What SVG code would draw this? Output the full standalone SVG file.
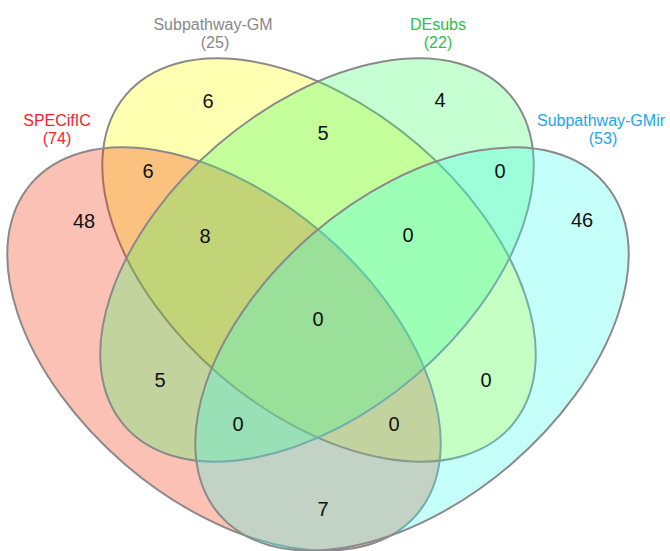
<svg xmlns="http://www.w3.org/2000/svg" width="670" height="551" viewBox="0 0 670 551">
  <style>
    .set { fill-opacity: 0.3; stroke: #8a8a8a; stroke-width: 2; }
    .lbl { font-family: "Liberation Sans", Arial, sans-serif; font-size: 16px; text-anchor: middle; }
    .cnt { font-family: "Liberation Sans", Arial, sans-serif; font-size: 20px; text-anchor: middle; fill: #111; }
  </style>
  <rect width="670" height="551" fill="#ffffff"/>

  <!-- four-set Venn: ellipses drawn yellow, red, green, cyan -->
  <g id="set-subpathway-gm">
    <ellipse class="set" cx="319" cy="260" rx="254" ry="152" transform="rotate(40.6 319 260)" fill="#ffff00"/>
    <text class="lbl" fill="#888888" x="213" y="30">Subpathway-GM</text>
    <text class="lbl" fill="#888888" x="215" y="48">(25)</text>
  </g>
  <g id="set-specific">
    <ellipse class="set" cx="224" cy="349" rx="254" ry="152" transform="rotate(40.6 224 349)" fill="#f2320a"/>
    <text class="lbl" fill="#f5222d" x="57" y="126">SPECifIC</text>
    <text class="lbl" fill="#f5222d" x="57" y="144">(74)</text>
  </g>
  <g id="set-desubs">
    <ellipse class="set" cx="317" cy="260" rx="254" ry="152" transform="rotate(-40.6 317 260)" fill="#3eff69"/>
    <text class="lbl" fill="#2dbe4e" x="438" y="30">DEsubs</text>
    <text class="lbl" fill="#2dbe4e" x="438" y="48">(22)</text>
  </g>
  <g id="set-subpathway-gmir">
    <ellipse class="set" cx="412" cy="349" rx="254" ry="152" transform="rotate(-40.6 412 349)" fill="#3effee"/>
    <text class="lbl" fill="#1aa7ec" x="601" y="126">Subpathway-GMir</text>
    <text class="lbl" fill="#1aa7ec" x="603" y="144">(53)</text>
  </g>

  <!-- region counts -->
  <g id="counts">
    <text class="cnt" x="84" y="228">48</text>
    <text class="cnt" x="208" y="108">6</text>
    <text class="cnt" x="440" y="107">4</text>
    <text class="cnt" x="582" y="227">46</text>
    <text class="cnt" x="148" y="178">6</text>
    <text class="cnt" x="323" y="140">5</text>
    <text class="cnt" x="500" y="178">0</text>
    <text class="cnt" x="205" y="243">8</text>
    <text class="cnt" x="408" y="242">0</text>
    <text class="cnt" x="318" y="326">0</text>
    <text class="cnt" x="160" y="387">5</text>
    <text class="cnt" x="486" y="387">0</text>
    <text class="cnt" x="238" y="431">0</text>
    <text class="cnt" x="394" y="431">0</text>
    <text class="cnt" x="323" y="516">7</text>
  </g>
</svg>
